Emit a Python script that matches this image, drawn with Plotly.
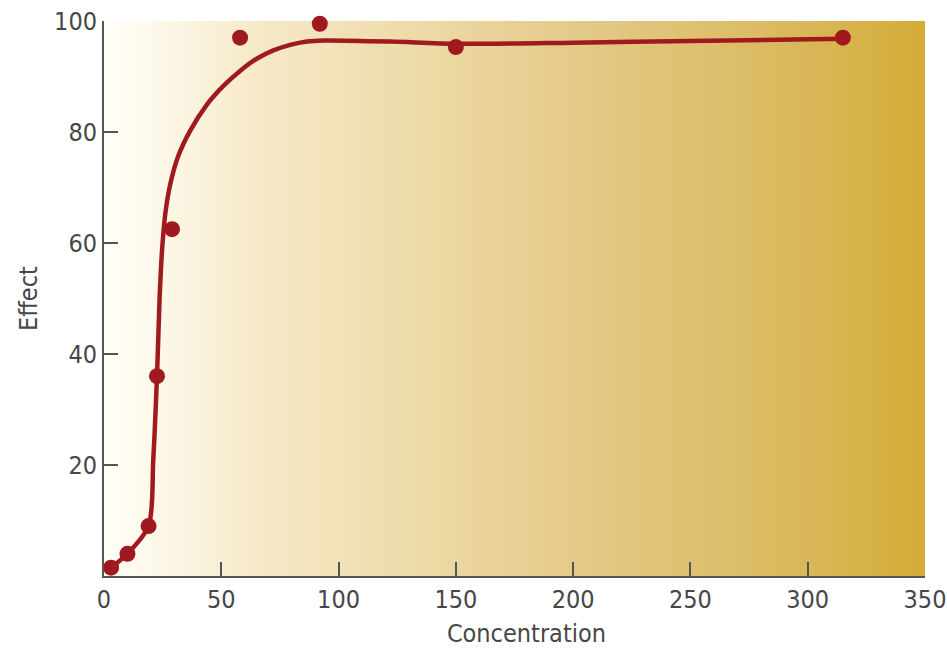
import plotly.graph_objects as go

# Measured concentration / effect pairs
conc = [3, 10, 19, 22.6, 29, 58, 92, 150, 315]
effect = [1.5, 4, 9, 36, 62.5, 97, 99.5, 95.3, 97]

# Fitted response curve
curve_x = [3, 10, 19, 21, 22.6, 23.7, 24.8, 26.2, 28.2, 31.5, 36.7, 43.8, 50.9, 58, 65.1, 72.2, 79.4, 86.5, 93.6, 122, 150, 200, 250, 315]
curve_y = [1.5, 4, 9, 21, 36, 50, 59, 65.5, 70.5, 75.5, 80.2, 84.9, 88.3, 91.0, 93.2, 94.7, 95.7, 96.3, 96.5, 96.3, 95.9, 96.1, 96.4, 96.8]

x_ticks = [0, 50, 100, 150, 200, 250, 300, 350]
y_ticks = [20, 40, 60, 80, 100]

RED = "#A0191F"
AXIS = "#555555"
FONT = "DejaVu Sans, Liberation Sans, sans-serif"

fig = go.Figure()

# Background panel with a horizontal cream-to-gold gradient
fig.add_trace(go.Scatter(
    x=[0, 350, 350, 0, 0], y=[0, 0, 100, 100, 0],
    mode="lines", line=dict(width=0), fill="toself",
    fillgradient=dict(
        type="horizontal",
        colorscale=[
            [0.0, "#FFFEF8"],
            [0.04, "#FEFBF0"],
            [0.18, "#F6EACA"],
            [0.36, "#EEDCAB"],
            [0.60, "#E3C885"],
            [0.85, "#D9B85A"],
            [1.0, "#D3AC36"],
        ],
    ),
    hoverinfo="skip", showlegend=False,
))

fig.add_trace(go.Scatter(
    x=curve_x, y=curve_y, mode="lines",
    line=dict(color=RED, width=4.5, shape="spline", smoothing=0.8),
    showlegend=False,
))

fig.add_trace(go.Scatter(
    x=conc, y=effect, mode="markers",
    marker=dict(color=RED, size=16),
    cliponaxis=False, showlegend=False,
))

fig.update_layout(
    width=947, height=648,
    margin=dict(l=104, r=22, t=21, b=72),
    paper_bgcolor="white", plot_bgcolor="white",
    font=dict(family=FONT, size=25, color="#474747"),
    annotations=[dict(
        text="Concentration", xref="paper", yref="paper",
        x=0.515, y=-0.103, xanchor="center", yanchor="middle",
        showarrow=False, font=dict(size=25),
    )],
)

fig.update_xaxes(
    range=[0, 350], tickvals=x_ticks, ticktext=[str(v) for v in x_ticks],
    showgrid=False, zeroline=False, automargin=False,
    ticklabeloverflow="allow",
    showline=True, linecolor=AXIS, linewidth=2,
    ticks="inside", ticklen=14, tickwidth=2, tickcolor=AXIS,
)
fig.update_yaxes(
    range=[0, 100], tickvals=y_ticks, ticktext=[str(v) for v in y_ticks],
    showgrid=False, zeroline=False, automargin=False,
    ticklabeloverflow="allow",
    showline=True, linecolor=AXIS, linewidth=2,
    ticks="inside", ticklen=14, tickwidth=2, tickcolor=AXIS,
    title=dict(text="Effect", standoff=5, font=dict(size=25)),
)

# Narrow letterforms for all chart text, then redraw so text is re-measured
condense = (
    "var s=document.createElement('style');"
    "s.textContent='.js-plotly-plot svg text, .js-plotly-plot svg tspan"
    "{font-stretch:condensed !important;}';"
    "document.head.appendChild(s);"
    "Plotly.redraw(document.getElementById('{plot_id}'));"
)

fig.write_html("out.html", post_script=condense)
